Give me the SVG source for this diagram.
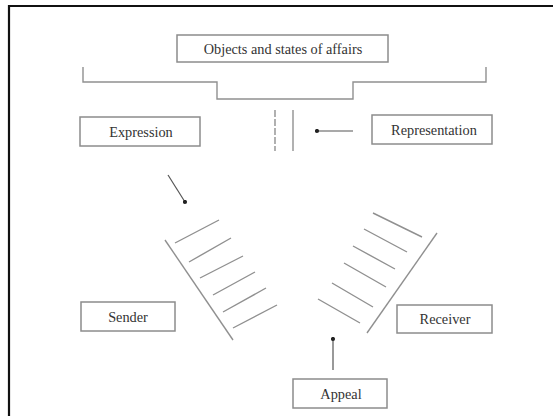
<svg xmlns="http://www.w3.org/2000/svg" width="553" height="416" viewBox="0 0 553 416">
<style>
.box{fill:#fff;stroke:#8c8c8c;stroke-width:1.5}
.lbl{font-family:"Liberation Serif","Times New Roman",serif;font-size:14.3px;fill:#333;text-anchor:middle;dominant-baseline:central}
.ln{fill:none;stroke:#909090;stroke-width:1.4}
.arr{fill:none;stroke:#555;stroke-width:1.2}
</style>
<defs>
<marker id="dot" viewBox="0 0 6 6" refX="3" refY="3" markerWidth="5" markerHeight="5" markerUnits="userSpaceOnUse"><circle cx="3" cy="3" r="2.5" fill="#222"/></marker>
</defs>
<rect width="553" height="416" fill="#fff"/>
<path d="M9 416 V6 H553" fill="none" stroke="#111" stroke-width="2.2"/>
<g id="objects"><rect class="box" x="177" y="35" width="211" height="27"/><text class="lbl" x="283" y="49">Objects and states of affairs</text></g>
<g id="expression"><rect class="box" x="80" y="117" width="120" height="29"/><text class="lbl" x="141" y="132">Expression</text></g>
<g id="representation"><rect class="box" x="372" y="115" width="120" height="29"/><text class="lbl" x="434" y="130">Representation</text></g>
<g id="sender"><rect class="box" x="81" y="302" width="94" height="29"/><text class="lbl" x="128" y="317">Sender</text></g>
<g id="receiver"><rect class="box" x="397" y="305" width="95" height="28"/><text class="lbl" x="445" y="319">Receiver</text></g>
<g id="appeal"><rect class="box" x="293" y="379" width="94" height="29"/><text class="lbl" x="341" y="394">Appeal</text></g>
<g id="bracket"><path class="ln" d="M83 67 V82 H217 V99 H353 V82 H486 V67"/></g>
<g id="sender-ladder">
<path class="ln" d="M165 240 L233 340"/>
<path class="ln" d="M175 243 L219 220 M189 262 L231 238 M200 278 L243 256 M213 295 L255 272 M223 312 L266 288 M233 328 L277 305"/>
</g>
<g id="receiver-ladder">
<path class="ln" d="M437 233 L367 333"/>
<path class="ln" d="M373 213 L422 237 M364 229 L407 252 M353 246 L395 269 M344 263 L386 287 M332 283 L373 307 M318 299 L360 323"/>
</g>
<g id="connectors">
<path class="ln" d="M275 110 V151" stroke-dasharray="7 2"/>
<path class="ln" d="M293 110 V151"/>
<path class="arr" d="M353 131 L317 131" marker-end="url(#dot)"/>
<path class="arr" d="M168 175 L185 202" marker-end="url(#dot)"/>
<path class="arr" d="M333 370 L333 339" marker-end="url(#dot)"/>
</g>
</svg>
